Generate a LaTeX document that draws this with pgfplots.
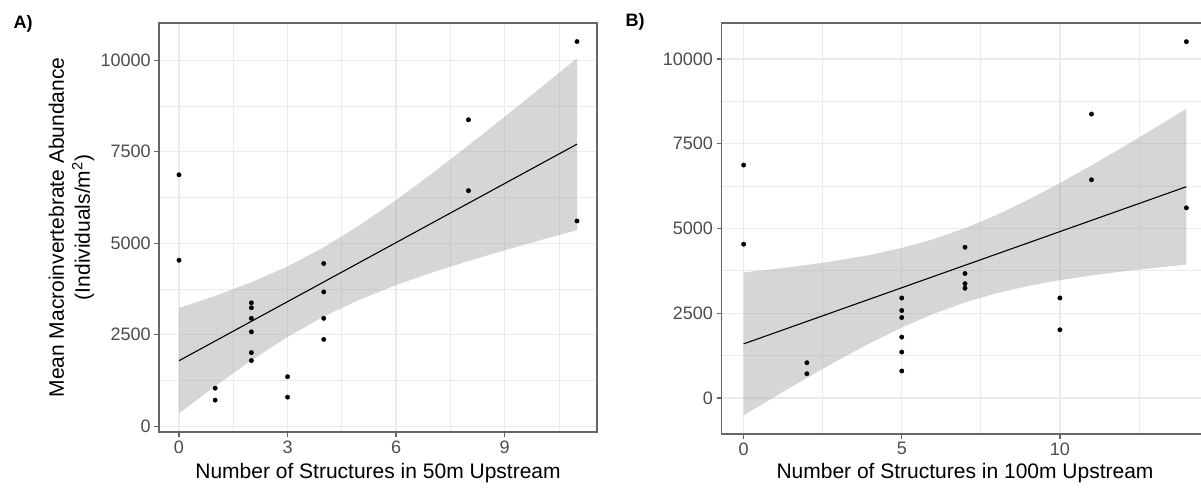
\documentclass[border=0pt]{standalone}
\usepackage{fontspec}
\setmainfont{Liberation Sans}
\usepackage{pgfplots}
\pgfplotsset{compat=1.18}

\definecolor{gridgrey}{gray}{0.92}
\definecolor{framegrey}{gray}{0.4}
\definecolor{ticktext}{gray}{0.3}

\pgfplotsset{
  panel/.style={
    scale only axis,
    axis line style={draw=framegrey, line width=1.5pt},
    grid=both,
    major grid style={draw=gridgrey, line width=1.3pt},
    minor grid style={draw=gridgrey, line width=0.7pt},
    tick align=outside,
    tick pos=left,
    major tick length=5pt,
    minor tick length=0pt,
    tick style={draw=framegrey, line width=1.3pt},
    ticklabel style={font=\fontsize{18}{20}\selectfont, text=ticktext},
    /pgf/number format/assume math mode=true,
    /pgf/number format/1000 sep={},
    scaled ticks=false,
    xlabel style={font=\fontsize{21}{24}\selectfont, at={(axis description cs:0.5,0)}, anchor=base},
    ylabel style={font=\fontsize{21}{26}\selectfont, align=center,
      at={(axis description cs:-0.2,0.5)}, anchor=center},
    ytick={0,2500,5000,7500,10000},
    minor ytick={1250,3750,6250,8750},
  },
  ribbon/.style={draw=none, fill=black!40, fill opacity=0.4},
  fitline/.style={black, line width=1.1pt},
  pts/.style={only marks, mark=*, mark size=2.2pt, black},
}

% points: x50 = structures in 50 m, x100 = structures in 100 m
\pgfplotstableread{
x50 x100 y
0  0  6870
0  0  4535
1  2  1037
1  2  712
2  7  3372
2  7  3237
2  5  2948
2  5  2578
2  10 2010
2  5  1794
3  5  1352
3  5  793
4  7  4445
4  7  3669
4  10 2948
4  5  2371
8  11 8375
8  11 6437
11 14 10512
11 14 5608
}\abund

\begin{document}
\begin{tikzpicture}[x=1pt,y=1pt]
\path[use as bounding box] (0,0) rectangle (1201pt,491pt);

\node[anchor=base west, font=\fontsize{18}{20}\selectfont\bfseries] at (10pt,462pt) {A)};
\node[anchor=base west, font=\fontsize{18}{20}\selectfont\bfseries] at (622pt,464pt) {B)};

\begin{axis}[panel,
  at={(159.1pt,59pt)}, anchor=south west,
  width=437.8pt, height=409pt,
  xmin=-0.55, xmax=11.55, ymin=-160, ymax=11020,
  xtick={0,3,6,9}, minor xtick={1.5,4.5,7.5,10.5},
  xlabel={Number of Structures in 50m Upstream},
  xlabel style={yshift=-46pt},
  ylabel={Mean Macroinvertebrate Abundance\\(Individuals/m\textsuperscript{2})},
]
\addplot[ribbon] coordinates {
  (0,3230) (1,3560) (2,3932) (3,4367) (4,4887) (5,5497) (6,6179)
  (7,6910) (8,7674) (9,8457) (10,9253) (11,10058)
  (11,5358) (10,5087) (9,4807) (8,4514) (7,4202) (6,3857) (5,3463)
  (4,2995) (3,2439) (2,1798) (1,1094) (0,348)
} -- cycle;
\addplot[fitline] coordinates {(0,1789) (11,7708)};
\addplot[pts] table[x=x50, y=y] {\abund};
\end{axis}

\begin{axis}[panel,
  at={(721.5pt,57pt)}, anchor=south west,
  width=487pt, height=411pt,
  xmin=-0.7, xmax=14.7, ymin=-1066, ymax=11063,
  xtick={0,5,10}, minor xtick={2.5,7.5,12.5},
  xlabel={Number of Structures in 100m Upstream},
  xlabel style={yshift=-44pt},
]
\addplot[ribbon] coordinates {
  (0,3703) (1,3805) (2,3921) (3,4057) (4,4220) (5,4424) (6,4684)
  (7,5008) (8,5399) (9,5847) (10,6340) (11,6862) (12,7406) (13,7964) (14,8532)
  (14,3932) (13,3838) (12,3734) (11,3614) (10,3474) (9,3303) (8,3089)
  (7,2818) (6,2480) (5,2076) (4,1618) (3,1119) (2,591) (1,45) (0,-515)
} -- cycle;
\addplot[fitline] coordinates {(0,1594) (14,6232)};
\addplot[pts] table[x=x100, y=y] {\abund};
\end{axis}
\end{tikzpicture}
\end{document}
